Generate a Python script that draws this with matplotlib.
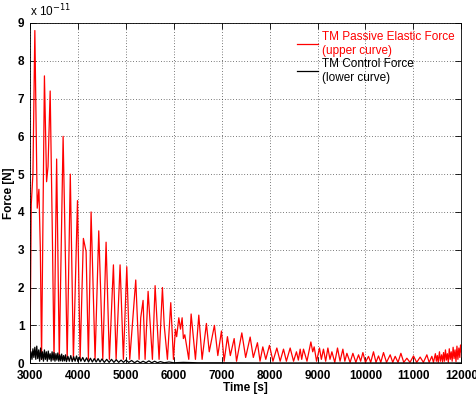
import matplotlib
matplotlib.use('Agg')
import matplotlib.pyplot as plt

plt.rcParams['font.family'] = ['Liberation Sans', 'DejaVu Sans']

# TM passive elastic force (upper curve), units of 1e-11 N
red_t = [3000, 3025, 3060, 3100, 3150, 3185, 3215, 3240, 3300, 3345, 3375, 3420, 3470, 3500,
         3555, 3610, 3690, 3735, 3775, 3840, 3905, 3990, 4045, 4113, 4170, 4218, 4274, 4357,
         4434, 4518, 4587, 4656, 4740, 4796, 4879, 4948, 5019, 5081, 5206, 5276, 5310, 5359,
         5401, 5464, 5554, 5610, 5693, 5763, 5800, 5867, 5937, 5993, 6034, 6060, 6105, 6140,
         6174, 6200, 6230, 6313, 6362, 6452, 6522, 6591, 6681, 6740, 6848, 6919, 6995, 7051,
         7120, 7180, 7260, 7310, 7420, 7500, 7594, 7660, 7746, 7800, 7858, 7920, 7997, 8070,
         8151, 8220, 8290, 8350, 8429, 8500, 8560, 8600, 8638, 8670, 8707, 8780, 8861, 8900,
         8930, 8980, 9041, 9080, 9124, 9170, 9216, 9260, 9300, 9360, 9417, 9470, 9529, 9570,
         9613, 9680, 9738, 9800, 9856, 9900, 9947, 10000, 10064, 10110, 10168, 10220, 10273,
         10320, 10377, 10440, 10517, 10570, 10621, 10680, 10740, 10800, 10865, 10930, 11003,
         11070, 11142, 11210, 11282, 11330, 11386, 11420, 11460, 11480, 11500, 11520, 11545,
         11565, 11590, 11610, 11630, 11650, 11670, 11690, 11710, 11730, 11750, 11770, 11790,
         11810, 11830, 11850, 11870, 11890, 11910, 11930, 11950, 11970, 11985, 12000]
red_v = [0.3, 4.2, 5.0, 8.8, 4.1, 4.6, 3.0, 0.1, 7.6, 4.8, 5.2, 7.2, 3.0, 0.1,
         5.4, 0.1, 6.0, 3.0, 0.1, 5.0, 0.1, 4.3, 0.1, 3.3, 2.95, 0.1, 4.0, 0.1,
         3.5, 0.1, 3.2, 0.1, 2.6, 0.1, 2.6, 0.1, 2.55, 0.1, 2.2, 0.1, 1.2, 1.66,
         0.1, 1.9, 0.1, 2.05, 0.1, 2.0, 1.0, 0.1, 1.6, 0.1, 0.9, 0.7, 1.2, 0.9,
         1.2, 0.65, 0.75, 0.1, 1.3, 0.1, 1.27, 0.1, 1.05, 0.3, 1.0, 0.2, 0.85, 0.05,
         0.7, 0.2, 0.65, 0.05, 0.8, 0.15, 0.69, 0.15, 0.54, 0.05, 0.43, 0.1, 0.47, 0.05,
         0.4, 0.05, 0.37, 0.05, 0.4, 0.05, 0.3, 0.08, 0.37, 0.1, 0.37, 0.05, 0.56, 0.3,
         0.43, 0.05, 0.4, 0.1, 0.37, 0.05, 0.4, 0.1, 0.3, 0.02, 0.4, 0.05, 0.37, 0.05,
         0.26, 0.02, 0.26, 0.02, 0.22, 0.05, 0.28, 0.02, 0.18, 0.02, 0.3, 0.02, 0.19,
         0.02, 0.28, 0.02, 0.22, 0.02, 0.18, 0.02, 0.26, 0.02, 0.13, 0.02, 0.19,
         0.02, 0.16, 0.02, 0.22, 0.02, 0.18, 0.02, 0.25, 0.05, 0.2, 0.02, 0.3,
         0.05, 0.22, 0.03, 0.28, 0.05, 0.35, 0.08, 0.25, 0.02, 0.38, 0.1, 0.3,
         0.05, 0.42, 0.12, 0.35, 0.04, 0.45, 0.1, 0.4, 0.15, 0.48, 0.3]

# TM control force (lower curve), units of 1e-11 N
black_t = [3000, 3020, 3040, 3060, 3080, 3100, 3120, 3140, 3160, 3180, 3200, 3220, 3240, 3260,
           3280, 3300, 3320, 3340, 3360, 3380, 3400, 3420, 3440, 3460, 3480, 3500, 3520, 3540,
           3560, 3580, 3600, 3620, 3640, 3660, 3680, 3700, 3720, 3740, 3760, 3790, 3820, 3850,
           3880, 3910, 3940, 3970, 4000, 4030, 4060, 4100, 4140, 4180, 4220, 4260, 4300, 4340,
           4380, 4420, 4460, 4500, 4550, 4600, 4650, 4700, 4750, 4800, 4850, 4900, 4950, 5000,
           5060, 5120, 5180, 5240, 5300, 5360, 5420, 5480, 5540, 5600, 5660, 5720, 5800, 5900,
           6000, 6200, 6500, 7000, 8000, 9000, 10000, 11000, 12000]
black_v = [0.05, 0.3, 0.1, 0.38, 0.15, 0.42, 0.1, 0.45, 0.12, 0.35, 0.05, 0.4, 0.1, 0.3,
           0.05, 0.35, 0.1, 0.3, 0.05, 0.32, 0.1, 0.25, 0.05, 0.3, 0.08, 0.28, 0.05, 0.25,
           0.08, 0.27, 0.05, 0.22, 0.06, 0.24, 0.05, 0.2, 0.06, 0.22, 0.04, 0.18, 0.05, 0.2,
           0.04, 0.17, 0.05, 0.19, 0.04, 0.16, 0.05, 0.15, 0.04, 0.14, 0.03, 0.13, 0.03, 0.12,
           0.03, 0.12, 0.03, 0.11, 0.02, 0.1, 0.02, 0.1, 0.02, 0.09, 0.02, 0.08, 0.02, 0.08,
           0.02, 0.07, 0.01, 0.06, 0.01, 0.05, 0.01, 0.06, 0.01, 0.05, 0.01, 0.04, 0.01, 0.03,
           0.01, 0.02, 0.01, 0.01, 0.005, 0.005, 0.005, 0.005, 0.005]

x_ticks = list(range(3000, 12001, 1000))
y_ticks = list(range(0, 10))

fig = plt.figure(figsize=(4.77, 3.96), dpi=100)
ax = fig.add_axes([0.063, 0.083, 0.904, 0.859])

ax.plot(red_t, red_v, color='red', lw=0.9, label='TM Passive Elastic Force\n(upper curve)')
ax.plot(black_t, black_v, color='black', lw=0.9, label='TM Control Force\n(lower curve)')

ax.set_xlim(3000, 12000)
ax.set_ylim(0, 9)
ax.set_xticks(x_ticks)
ax.set_yticks(y_ticks)
ax.tick_params(direction='in', top=True, right=True, length=4, width=0.6, labelsize=8.5)
ax.tick_params(axis='x', pad=5)
ax.tick_params(axis='y', pad=4)
for lab in ax.get_xticklabels() + ax.get_yticklabels():
    lab.set_fontweight('bold')
ax.grid(True, color='black', linestyle=(0, (1, 3)), linewidth=0.5)
for s in ax.spines.values():
    s.set_linewidth(0.6)

ax.set_xlabel('Time [s]', fontsize=8.5, fontweight='bold', labelpad=0)
ax.set_ylabel('Force [N]', fontsize=8.5, fontweight='bold', labelpad=2)
ax.text(0.0, 1.012, r'x 10$^{-11}$', transform=ax.transAxes, fontsize=8.5,
        ha='left', va='bottom')

leg = ax.legend(loc='upper left', bbox_to_anchor=(0.6, 1.0), frameon=False,
                fontsize=8.5, handlelength=1.8, handletextpad=0.3,
                labelspacing=0.1, borderaxespad=0.3)
leg.get_texts()[0].set_color('red')

fig.savefig('out.png', dpi=100)
